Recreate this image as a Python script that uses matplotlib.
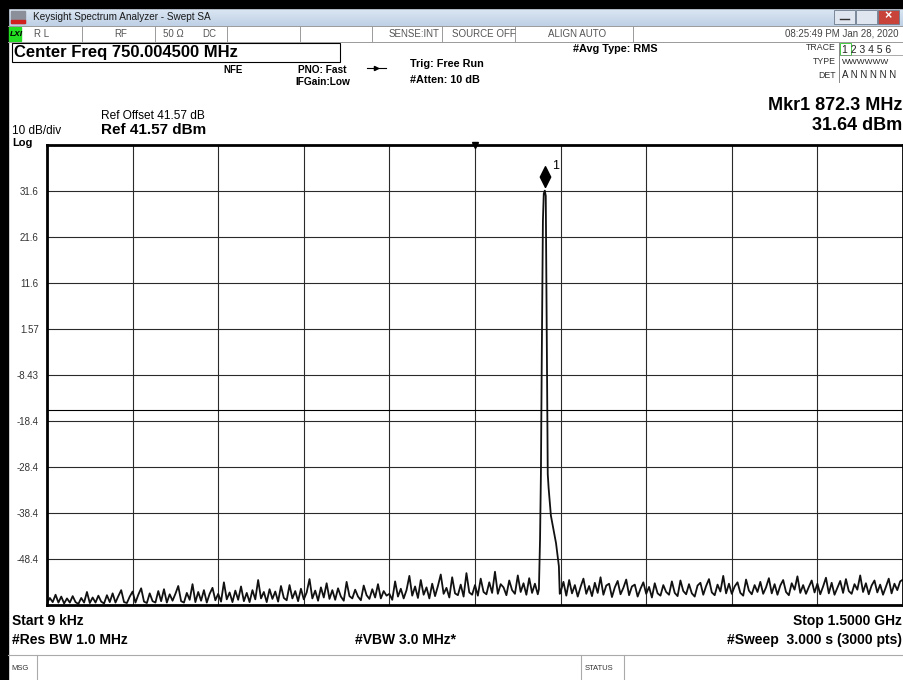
import numpy as np
import matplotlib.pyplot as plt
from matplotlib.patches import Rectangle
from matplotlib.path import Path

plt.rcParams['font.family'] = ['Liberation Sans', 'DejaVu Sans']

# analyzer settings
ref_level = 41.57
db_per_div = 10
start_mhz = 0.009
stop_mhz = 1500.0
center_mhz = 750.0045
mkr_freq = 872.3
mkr_level = 31.64
dl1_level = -16.01
ytick_labels = ['31.6', '21.6', '11.6', '1.57', '-8.43', '-18.4', '-28.4', '-38.4', '-48.4']

# noise floor left of the carrier, every 5 MHz from 0 to 860 MHz
noise_left_db = [
    -58.0, -56.9, -57.8, -56.2, -57.9, -56.6, -58.1, -57.0, -57.9, -56.5,
    -57.8, -58.2, -56.9, -57.9, -55.6, -58.0, -56.8, -57.9, -56.4, -57.7,
    -58.1, -56.3, -57.8, -55.9, -57.9, -56.5, -55.2, -57.8, -58.0, -56.6,
    -55.5, -57.9, -56.2, -54.8, -57.7, -58.0, -55.9, -57.6, -57.9, -55.4,
    -57.6, -55.0, -57.9, -56.1, -57.5, -56.0, -54.3, -57.6, -57.9, -55.8,
    -57.3, -53.9, -57.8, -55.6, -57.5, -55.2, -57.9, -56.0, -54.7, -57.4,
    -56.0, -57.7, -53.5, -57.2, -55.7, -57.8, -55.3, -57.3, -54.4, -57.6,
    -55.8, -57.8, -55.2, -57.2, -53.0, -57.0, -55.6, -57.8, -55.0, -57.1,
    -55.5, -57.7, -54.3, -56.9, -57.4, -54.1, -57.0, -55.4, -57.6, -54.9,
    -57.2, -55.7, -52.8, -57.0, -55.3, -57.5, -54.6, -56.8, -53.7, -57.1,
    -55.2, -57.3, -54.8, -56.6, -57.5, -53.4, -56.5, -57.0, -55.1, -56.6,
    -57.4, -54.2, -56.3, -57.1, -55.0, -56.8, -53.9, -57.0, -55.4, -56.4,
    -56.0, -57.3, -53.3, -56.6, -54.9, -57.0, -55.2, -52.1, -56.4, -54.4,
    -56.9, -53.0, -56.2, -54.6, -57.0, -53.8, -56.5, -54.3, -51.8, -56.0,
    -54.7, -56.8, -52.4, -55.9, -56.3, -54.0, -56.6, -51.5, -55.7, -56.2,
    -54.1, -56.4, -52.7, -55.6, -56.1, -53.5, -55.8, -51.2, -56.0, -53.9,
    -54.6, -56.3, -53.1, -55.2, -56.0, -52.0, -55.6, -53.7, -56.2, -52.6,
    -55.8, -53.8, -56.1,
]

# carrier around the marker
peak_freq_mhz = [862.0, 864.0, 865.5, 867.0, 869.0, 870.5, 872.3, 874.0, 875.5,
                 876.5, 877.5, 879.0, 881.0, 883.0, 886.0, 889.0, 892.0, 895.0,
                 897.0, 898.5]
peak_db = [-55.0, -44.0, -30.0, -5.0, 25.0, 31.0, 31.64, 30.5, 5.0,
           -10.0, -30.0, -33.0, -36.0, -39.0, -41.0, -43.0, -45.0, -48.0,
           -50.0, -56.0]

# noise floor right of the carrier, every 5 MHz from 900 to 1500 MHz
noise_right_db = [
    -55.6, -53.4, -56.4, -53.0, -55.9, -54.1, -56.6, -54.5, -52.7, -56.0,
    -54.3, -56.5, -53.6, -55.8, -52.4, -56.2, -54.2, -53.8, -56.7, -54.6,
    -53.2, -56.1, -54.7, -52.9, -56.3, -54.4, -54.0, -56.6, -54.9, -53.5,
    -56.0, -54.5, -56.8, -53.7, -55.9, -56.4, -54.1, -55.6, -56.2, -53.3,
    -55.8, -56.5, -53.1, -55.4, -56.1, -53.9, -55.9, -56.6, -54.2, -53.6,
    -56.2, -54.3, -52.8, -55.7, -56.3, -54.0, -55.5, -52.1, -55.9, -53.8,
    -56.0, -54.4, -53.5, -55.8, -56.4, -52.9, -55.3, -56.1, -54.1, -55.6,
    -53.4, -56.0, -54.6, -52.6, -55.9, -53.9, -56.2, -54.2, -53.0, -55.6,
    -56.3, -53.7, -55.1, -52.2, -55.8, -54.1, -56.0, -54.5, -53.1, -55.7,
    -53.8, -56.1, -54.4, -52.5, -55.9, -53.6, -56.2, -54.7, -53.2, -55.8,
    -52.8, -55.4, -56.0, -53.9, -55.1, -52.0, -55.6, -53.7, -56.1, -54.2,
    -53.1, -55.7, -54.0, -56.2, -54.5, -52.7, -55.9, -53.8, -55.2, -53.3,
    -52.9,
]

W, H = 904, 680
fig = plt.figure(figsize=(W / 100, H / 100), dpi=100)
fig.patch.set_facecolor('white')

# screen furniture in pixel coordinates
bg = fig.add_axes([0, 0, 1, 1])
bg.set_xlim(0, W)
bg.set_ylim(H, 0)
bg.axis('off')

grad = np.linspace(0, 1, 20).reshape(-1, 1)
bg.imshow(grad, extent=(0, W, 26, 8), cmap=plt.matplotlib.colors.LinearSegmentedColormap.from_list(
    'tb', ['#dce7f3', '#bfd1e6']), aspect='auto', zorder=0)
bg.set_xlim(0, W)
bg.set_ylim(H, 0)
bg.add_patch(Rectangle((0, 0), W, 8, color='black'))
bg.add_patch(Rectangle((0, 0), 8, H, color='black'))
bg.add_patch(Rectangle((11, 11), 14, 12, color='#8a8f99'))
bg.add_patch(Rectangle((11, 20), 14, 3, color='#d02020'))
bg.text(33, 17, 'Keysight Spectrum Analyzer - Swept SA', fontsize=7.2, va='center', color='#1a1a1a')
for x0, fc in [(834, '#dfe6ef'), (856, '#dfe6ef'), (878, '#c8433a')]:
    bg.add_patch(Rectangle((x0, 10), 21, 14, facecolor=fc, edgecolor='#6b7a8c', lw=0.6))
bg.plot([840, 849], [19, 19], color='#333', lw=1)
bg.text(888.5, 16.5, '×', fontsize=9, color='white', ha='center', va='center', weight='bold')

# status row
bg.plot([8, W], [26, 26], color='#9a9a9a', lw=0.7)
bg.plot([8, W], [42, 42], color='#9a9a9a', lw=0.7)
for xs in [82, 155, 227, 300, 372, 442, 515, 633]:
    bg.plot([xs, xs], [26, 42], color='#9a9a9a', lw=0.7)
bg.add_patch(Rectangle((9, 27), 12, 14, color='#22dd22'))
bg.text(10, 34, 'LXI', fontsize=6, weight='bold', style='italic', va='center')
for x0, s in [(34, 'R L'), (114, 'RF'), (163, '50 Ω'), (202, 'DC'),
              (389, 'SENSE:INT'), (452, 'SOURCE OFF'), (548, 'ALIGN AUTO')]:
    bg.text(x0, 34, s, fontsize=7, va='center', color='#555')
bg.text(899, 34, '08:25:49 PM Jan 28, 2020', fontsize=7, va='center', ha='right', color='#444')

# header
bg.add_patch(Rectangle((12, 43), 328, 19, fill=False, edgecolor='black', lw=0.8))
bg.text(14, 53, 'Center Freq 750.004500 MHz', fontsize=12, weight='bold', va='center')
bg.text(233, 70, 'NFE', fontsize=7, weight='bold', va='center', ha='center')
bg.text(298, 70, 'PNO: Fast', fontsize=7.3, weight='bold', va='center')
bg.text(295, 82, 'IFGain:Low', fontsize=7.3, weight='bold', va='center')
bg.plot([367, 386], [68, 68], color='black', lw=0.8)
bg.plot([376], [68], marker='>', ms=3, color='black')
bg.text(410, 64, 'Trig: Free Run', fontsize=7.8, weight='bold', va='center')
bg.text(410, 80, '#Atten: 10 dB', fontsize=7.8, weight='bold', va='center')
bg.text(573, 49, '#Avg Type: RMS', fontsize=7.8, weight='bold', va='center')
bg.text(836, 48, 'TRACE', fontsize=6.3, va='center', ha='right', color='#333')
bg.text(836, 61, 'TYPE', fontsize=6.3, va='center', ha='right', color='#333')
bg.text(836, 75, 'DET', fontsize=6.3, va='center', ha='right', color='#333')
bg.plot([839, 839], [43, 82], color='#888', lw=0.7)
bg.plot([839, W], [55, 55], color='#888', lw=0.5)
bg.add_patch(Rectangle((840, 43), 11, 12, fill=False, edgecolor='#4c4', lw=0.7))
bg.text(842, 50, '1 2 3 4 5 6', fontsize=7.5, va='center', color='#222')
bg.text(842, 62, 'WWWWWW', fontsize=6, va='center', color='#222')
bg.text(842, 75, 'A N N N N N', fontsize=7, va='center', color='#222')

bg.text(902, 105, 'Mkr1 872.3 MHz', fontsize=13, weight='bold', ha='right', va='center')
bg.text(902, 126, '31.64 dBm', fontsize=13, weight='bold', ha='right', va='center')
bg.text(101, 116, 'Ref Offset 41.57 dB', fontsize=8.6, va='center')
bg.text(101, 130, 'Ref 41.57 dBm', fontsize=11, weight='bold', va='center')
bg.text(12, 131, '10 dB/div', fontsize=8.5, va='center')
bg.text(12, 143, 'Log', fontsize=8, weight='bold', va='center')

# footer
bg.text(12, 621, 'Start 9 kHz', fontsize=10, weight='bold', va='center')
bg.text(12, 640, '#Res BW 1.0 MHz', fontsize=10, weight='bold', va='center')
bg.text(355, 640, '#VBW 3.0 MHz*', fontsize=10, weight='bold', va='center')
bg.text(902, 621, 'Stop 1.5000 GHz', fontsize=10, weight='bold', va='center', ha='right')
bg.text(902, 640, '#Sweep  3.000 s (3000 pts)', fontsize=10, weight='bold', va='center', ha='right')
bg.plot([8, W], [655, 655], color='#aaa', lw=0.8)
for xs in [37, 581, 624]:
    bg.plot([xs, xs], [655, H], color='#aaa', lw=0.8)
bg.text(11, 668, 'MSG', fontsize=5.5, va='center', color='#333')
bg.text(585, 668, 'STATUS', fontsize=5.5, va='center', color='#333')
bg.text(900, 405, 'DL1 -16.01 dBm', fontsize=5.8, va='center', ha='right', color='#333')

# the trace window
ax = fig.add_axes([47 / W, 1 - 605 / H, 856 / W, 460 / H])
freq_left = np.arange(len(noise_left_db)) * 5.0 + start_mhz
freq_right = 900.0 + np.arange(len(noise_right_db)) * 5.0
freq = np.concatenate([freq_left, peak_freq_mhz, freq_right])
level = np.concatenate([noise_left_db, peak_db, noise_right_db])
ax.plot(freq, level, color='#111', lw=1.3)

ax.set_xlim(start_mhz, stop_mhz)
ax.set_ylim(ref_level - 10 * db_per_div, ref_level)
ax.set_xticks(np.linspace(start_mhz, stop_mhz, 11))
ax.set_xticklabels([])
ax.set_yticks(ref_level - db_per_div * np.arange(1, 10))
ax.set_yticklabels(ytick_labels)
ax.tick_params(length=0, pad=6, labelsize=7, labelcolor='#333')
ax.grid(color='#2a2a2a', lw=0.8)
ax.set_axisbelow(True)
for sp in ax.spines.values():
    sp.set_linewidth(2)
ax.axhline(dl1_level, color='black', lw=0.8)

# marker 1 diamond, tip on the peak
diamond = Path([(0, 0), (0.5, 1), (0, 2), (-0.5, 1), (0, 0)])
ax.plot([mkr_freq], [mkr_level + 0.8], marker=diamond, ms=30, color='black', clip_on=False)
ax.annotate('1', (mkr_freq, mkr_level), xytext=(5, 18), textcoords='offset points',
            fontsize=9, va='center')
ax.plot([center_mhz], [ref_level], marker='v', ms=5, color='black', clip_on=False)

fig.savefig('out.png', dpi=100)
